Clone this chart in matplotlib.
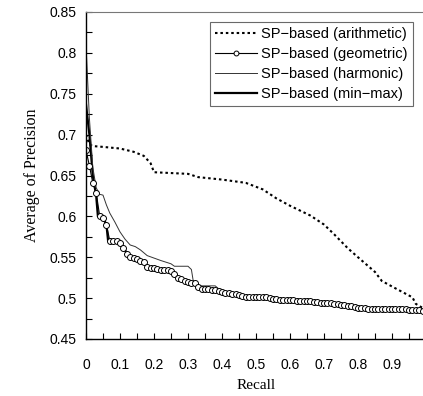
import matplotlib
matplotlib.use('Agg')
import matplotlib.pyplot as plt
import numpy as np
from matplotlib.ticker import MultipleLocator

# geometric: one circle every 0.01 of recall
geo_recall = np.round(np.arange(0, 1.0, 0.01), 2)
geo_prec = [0.681, 0.662, 0.641, 0.629, 0.601, 0.598, 0.590, 0.570, 0.570, 0.570,
            0.568, 0.561, 0.554, 0.550, 0.549, 0.548, 0.546, 0.544, 0.538, 0.537,
            0.537, 0.536, 0.535, 0.534, 0.534, 0.533, 0.530, 0.525, 0.523, 0.521,
            0.520, 0.519, 0.519, 0.514, 0.511, 0.511, 0.511, 0.510, 0.510, 0.509,
            0.508, 0.506, 0.506, 0.505, 0.505, 0.504, 0.503, 0.501, 0.501, 0.501,
            0.501, 0.501, 0.501, 0.501, 0.500, 0.499, 0.499, 0.498, 0.498, 0.498,
            0.498, 0.498, 0.497, 0.496, 0.496, 0.496, 0.496, 0.495, 0.495, 0.494,
            0.494, 0.494, 0.494, 0.493, 0.493, 0.492, 0.491, 0.490, 0.490, 0.489,
            0.488, 0.488, 0.488, 0.487, 0.487, 0.487, 0.487, 0.487, 0.487, 0.487,
            0.487, 0.487, 0.487, 0.487, 0.487, 0.486, 0.486, 0.485, 0.485, 0.484]

arith_recall = [0.0, 0.01, 0.02, 0.05, 0.10, 0.14, 0.17, 0.19, 0.20, 0.25, 0.30, 0.33,
                0.40, 0.47, 0.52, 0.56, 0.60, 0.63, 0.66, 0.70, 0.73, 0.77, 0.80,
                0.85, 0.87, 0.91, 0.96, 0.97, 0.99]
arith_prec = [0.700, 0.688, 0.686, 0.685, 0.683, 0.679, 0.674, 0.665, 0.654, 0.653,
              0.652, 0.648, 0.645, 0.641, 0.633, 0.622, 0.613, 0.607, 0.601, 0.590,
              0.578, 0.561, 0.550, 0.532, 0.521, 0.512, 0.501, 0.493, 0.488]

harm_recall = [0.0, 0.01, 0.02, 0.03, 0.04, 0.05, 0.06, 0.07, 0.085, 0.10, 0.115,
               0.13, 0.145, 0.16, 0.18, 0.20, 0.22, 0.25, 0.26, 0.30, 0.31, 0.315,
               0.33, 0.35, 0.38, 0.40, 0.45, 0.50, 0.55, 0.60, 0.65, 0.70, 0.75,
               0.80, 0.85, 0.90, 0.95, 0.99]
harm_prec = [0.810, 0.720, 0.660, 0.635, 0.627, 0.626, 0.614, 0.604, 0.593, 0.581,
             0.572, 0.565, 0.563, 0.559, 0.552, 0.549, 0.546, 0.542, 0.539, 0.539,
             0.535, 0.522, 0.515, 0.515, 0.515, 0.508, 0.505, 0.501, 0.499, 0.497,
             0.496, 0.494, 0.492, 0.488, 0.487, 0.487, 0.486, 0.484]

mm_recall = [0.0, 0.01, 0.02, 0.03, 0.035, 0.05, 0.06, 0.065, 0.07, 0.10, 0.11, 0.13,
             0.17, 0.18, 0.25, 0.28, 0.32, 0.34, 0.38, 0.41, 0.47, 0.53, 0.57, 0.61,
             0.65, 0.70, 0.75, 0.80, 0.85, 0.95, 0.99]
mm_prec = [0.737, 0.700, 0.650, 0.625, 0.600, 0.598, 0.590, 0.570, 0.570, 0.568,
           0.561, 0.550, 0.544, 0.538, 0.533, 0.523, 0.519, 0.511, 0.510, 0.506,
           0.501, 0.501, 0.498, 0.498, 0.496, 0.494, 0.492, 0.488, 0.487, 0.486, 0.484]

plt.rcParams['font.family'] = ['Liberation Sans', 'DejaVu Sans']

fig = plt.figure(figsize=(4.23, 3.96), dpi=100)
ax = fig.add_axes([86 / 423, 57 / 396, 340 / 423, 327 / 396])

ax.plot(arith_recall, arith_prec, color='black', lw=1.5, ls=(0, (1.2, 1.4)),
        label='SP\u2212based (arithmetic)')
ax.plot(mm_recall, mm_prec, color='black', lw=1.6,
        label='SP\u2212based (min\u2212max)')
ax.plot(harm_recall, harm_prec, color='#333333', lw=0.7,
        label='SP\u2212based (harmonic)')
ax.plot(geo_recall, geo_prec, color='black', lw=0.8, marker='o', ms=4.3,
        mfc='white', mec='black', mew=0.7, label='SP\u2212based (geometric)')

ax.set_xlim(0, 1)
ax.set_ylim(0.45, 0.85)
ax.xaxis.set_major_locator(MultipleLocator(0.1))
ax.xaxis.set_minor_locator(MultipleLocator(0.05))
ax.yaxis.set_major_locator(MultipleLocator(0.05))
ax.yaxis.set_minor_locator(MultipleLocator(0.025))
ax.set_xticklabels([f'{v:g}' for v in ax.get_xticks()])
ax.set_yticklabels([f'{v:g}' for v in ax.get_yticks()])
ax.tick_params(which='both', direction='in', length=4, width=0.8, labelsize=10)
ax.tick_params(axis='x', which='both', pad=14)
ax.tick_params(axis='y', which='both', pad=7)

ax.spines['top'].set_color('#777777')
ax.spines['left'].set_linewidth(1.0)
ax.spines['bottom'].set_linewidth(1.0)

ax.set_xlabel('Recall', family='Liberation Serif', fontsize=11, labelpad=5)
ax.set_ylabel('Average of Precision', family='Liberation Serif', fontsize=11.5, labelpad=7)

# legend order as in the reference
handles, labels = ax.get_legend_handles_labels()
order = [0, 3, 2, 1]
leg = ax.legend([handles[i] for i in order], [labels[i] for i in order],
                loc='upper right', bbox_to_anchor=(413 / 423, 1 - 22 / 396),
                bbox_transform=fig.transFigure, borderaxespad=0, fancybox=False,
                edgecolor='#444444', handlelength=2.9, handletextpad=0.3,
                labelspacing=0.4, fontsize=10.5, borderpad=0.35)
leg.get_frame().set_linewidth(0.8)
leg.legend_handles[1].set_markersize(3.5)

fig.savefig('out.png', dpi=100)
